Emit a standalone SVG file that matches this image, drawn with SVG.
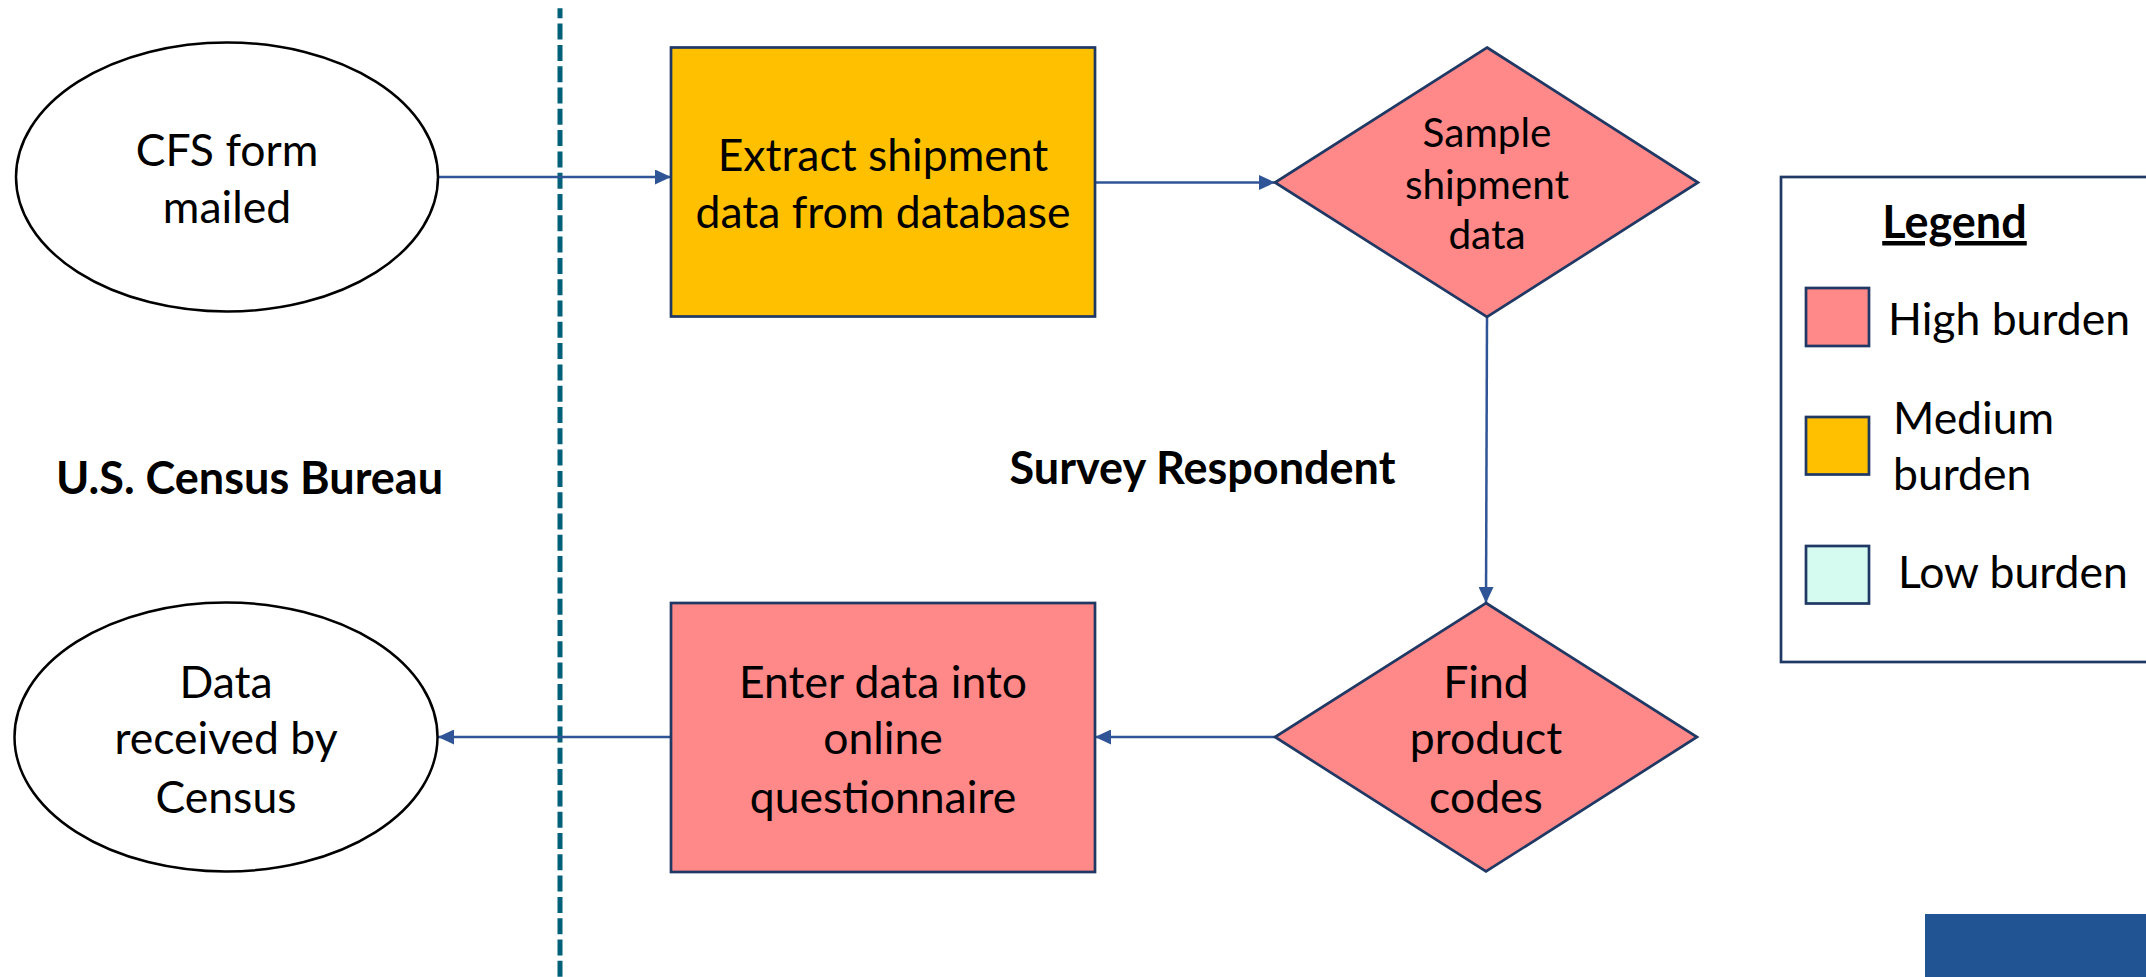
<svg xmlns="http://www.w3.org/2000/svg" width="2146" height="977" viewBox="0 0 2146 977">
<style>
text{font-family:Lato,"Liberation Sans",sans-serif;fill:#000;text-anchor:middle}
.t47{font-size:44.5px}
.t42{font-size:40.5px}
.b{font-weight:bold;font-size:45px}
.lg{font-size:44.5px;text-anchor:start}
.term{fill:#fff;stroke:#000;stroke-width:2.5}
.high{fill:#FF8888;stroke:#1F3864;stroke-width:2.7}
.med{fill:#FFC000;stroke:#1F3864;stroke-width:2.7}
.low{fill:#D5FBF0;stroke:#1F3864;stroke-width:2.7}
.conn{stroke:#2F5597;stroke-width:2.5;fill:none;marker-end:url(#arr)}
</style>
<defs>
<marker id="arr" viewBox="0 0 16 15" refX="16" refY="7.5" markerWidth="16" markerHeight="15" markerUnits="userSpaceOnUse" orient="auto">
<path d="M0,0 L16,7.5 L0,15 z" fill="#2F5597"/>
</marker>
</defs>
<rect x="0" y="0" width="2146" height="977" fill="#fff"/>
<line id="divider" x1="560" y1="8.3" x2="560" y2="977" stroke="#02607A" stroke-width="5" stroke-dasharray="16 5.3" stroke-dashoffset="6"/>
<g id="connectors">
<line class="conn" x1="438" y1="177" x2="671" y2="177"/>
<line class="conn" x1="1095" y1="182.5" x2="1275" y2="182.5"/>
<line class="conn" x1="1487" y1="317" x2="1486" y2="603"/>
<line class="conn" x1="1275" y1="737" x2="1095" y2="737"/>
<line class="conn" x1="671" y1="737" x2="438" y2="737"/>
</g>
<g id="cfs-form-mailed">
<ellipse class="term" cx="227" cy="177" rx="211" ry="134.5"/>
<text class="t47" x="227" y="165.5">CFS form</text>
<text class="t47" x="227" y="222.5">mailed</text>
</g>
<g id="extract-shipment">
<rect class="med" x="671" y="47.5" width="424" height="269"/>
<text class="t47" x="883" y="170.5">Extract shipment</text>
<text class="t47" x="883" y="227.5">data from database</text>
</g>
<g id="sample-shipment">
<polygon class="high" points="1487,47.5 1698,182.5 1487,317 1275,182.5"/>
<text class="t42" x="1487" y="147">Sample</text>
<text class="t42" x="1487" y="198.7">shipment</text>
<text class="t42" x="1487" y="248.7">data</text>
</g>
<g id="find-product-codes">
<polygon class="high" points="1486,603 1697,737 1486,871.5 1275,737"/>
<text class="t47" x="1486" y="697.5">Find</text>
<text class="t47" x="1486" y="754">product</text>
<text class="t47" x="1486" y="812.5">codes</text>
</g>
<g id="enter-data">
<rect class="high" x="671" y="603" width="424" height="269"/>
<text class="t47" x="883" y="697.5">Enter data into</text>
<text class="t47" x="883" y="754">online</text>
<text class="t47" x="883" y="812.5">questionnaire</text>
</g>
<g id="data-received">
<ellipse class="term" cx="226" cy="737" rx="211.5" ry="134.5"/>
<text class="t47" x="226" y="697.5">Data</text>
<text class="t47" x="226" y="754">received by</text>
<text class="t47" x="226" y="812.5">Census</text>
</g>
<g id="label-census">
<text class="b" x="249.5" y="494">U.S. Census Bureau</text>
</g>
<g id="label-respondent">
<text class="b" x="1202.5" y="484">Survey Respondent</text>
</g>
<g id="legend">
<rect x="1781" y="177" width="380" height="485" fill="#fff" stroke="#1F3864" stroke-width="2.7"/>
<text class="b" x="1954.5" y="238" text-decoration="underline">Legend</text>
<rect class="high" x="1806" y="288" width="63" height="58"/>
<text class="lg" x="1888" y="334.5">High burden</text>
<rect class="med" x="1806" y="417" width="63" height="57.5"/>
<text class="lg" x="1893" y="433.5">Medium</text>
<text class="lg" x="1893" y="490">burden</text>
<rect class="low" x="1806" y="546" width="63" height="57.5"/>
<text class="lg" x="1898" y="588">Low burden</text>
</g>
<rect id="corner-band" x="1925" y="914" width="221" height="63" fill="#215493"/>
</svg>
